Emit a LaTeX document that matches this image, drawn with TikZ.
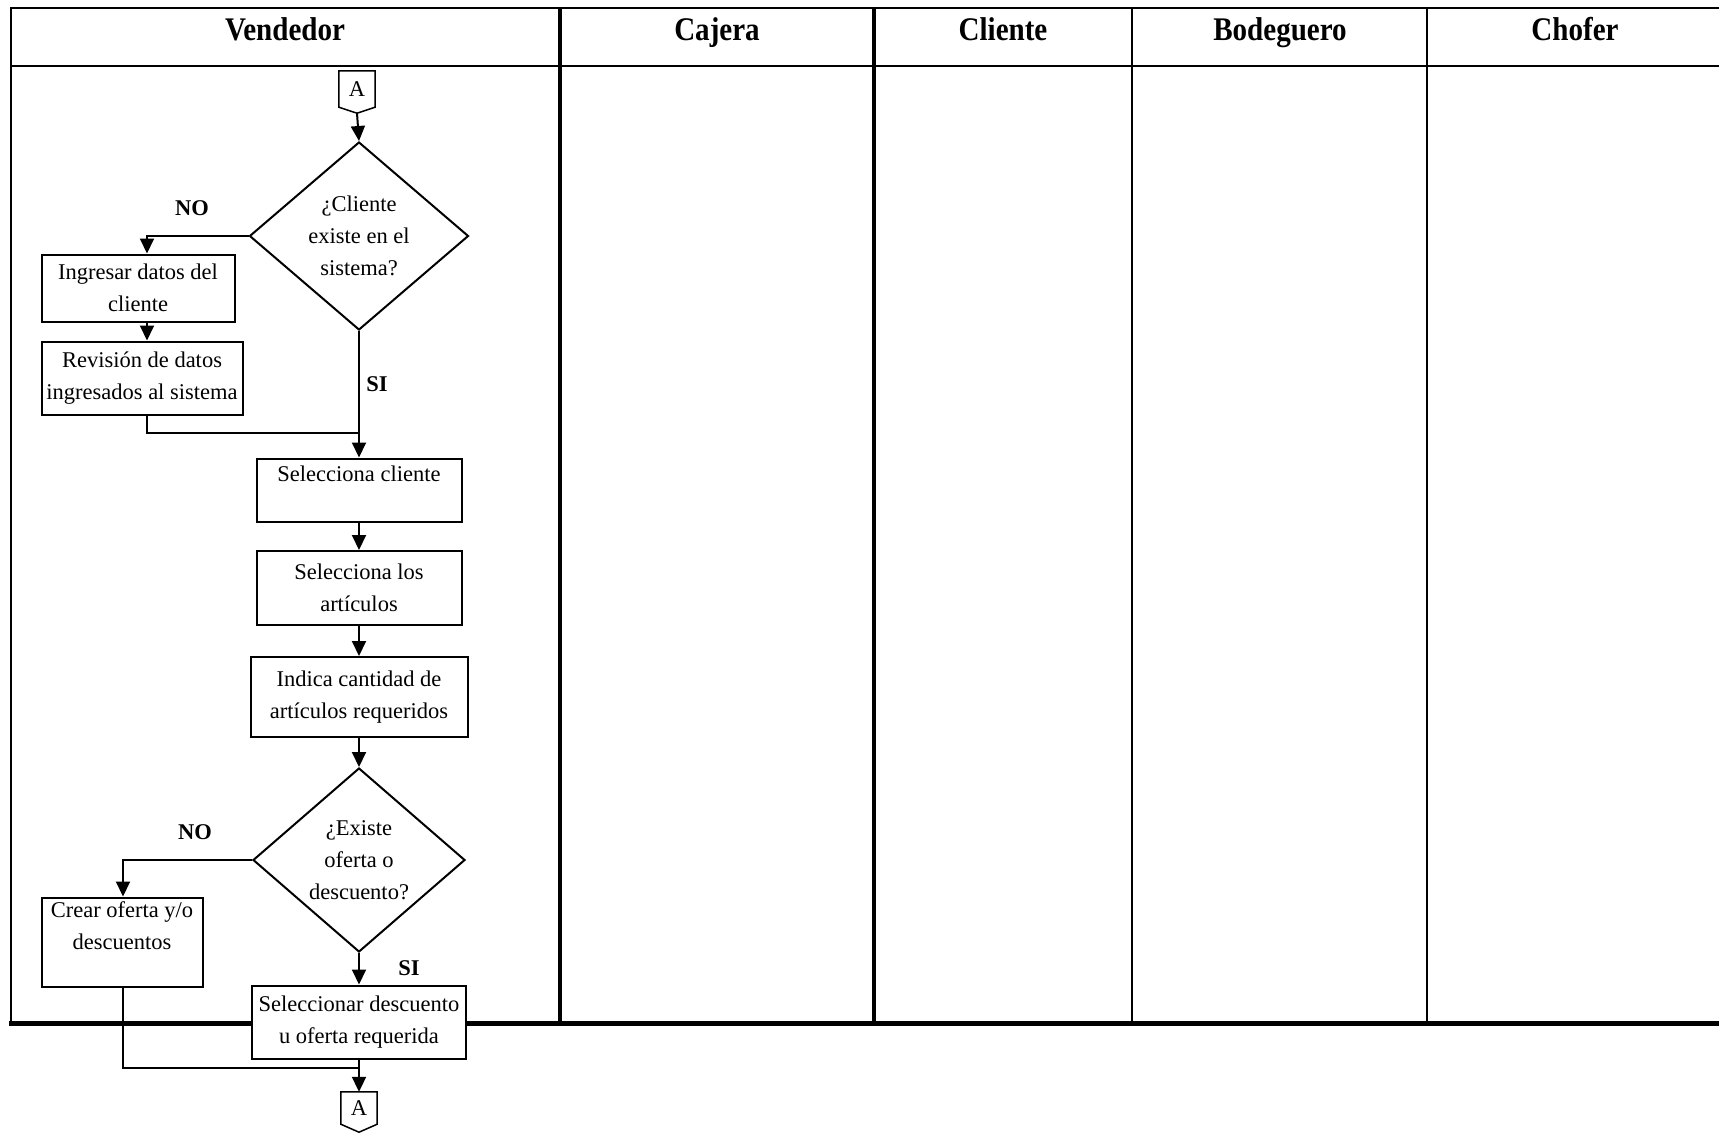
\documentclass[tikz,border=0pt]{standalone}
\usepackage{fontspec}
\setmainfont{Liberation Serif}
\newfontfamily\headfont[FakeStretch=0.88]{Liberation Serif}
\usetikzlibrary{arrows.meta,shapes.geometric}

\begin{document}
\begin{tikzpicture}[x=1pt,y=-1pt,
  lanerule/.style={line width=2.5pt},
  lanethick/.style={line width=4.5pt},
  lanethin/.style={line width=2pt},
  lanebase/.style={line width=5pt},
  head/.style={anchor=base,inner sep=0pt,font=\headfont\bfseries\fontsize{33}{36}\selectfont},
  txt/.style={font=\fontsize{22.5}{32}\selectfont},
  proc/.style={txt,draw,fill=white,line width=2pt,align=center,inner sep=0pt},
  dec/.style={txt,shape=diamond,draw,fill=white,line width=2pt,align=center,inner sep=0pt,aspect=1.18},
  term/.style={txt,inner sep=0pt,minimum width=36pt},
  termline/.style={draw,fill=white,line width=1.5pt},
  lbl/.style={txt,inner sep=0pt,font=\bfseries\fontsize{22.5}{32}\selectfont},
  conn/.style={line width=2pt},
  arr/.style={conn,-{Triangle[width=14pt,length=15pt]}}
]
\useasboundingbox (0,0) rectangle (1719,1135);

% swimlane grid
\draw[lanerule] (10,8) -- (1719,8);
\draw[lanerule] (10,66) -- (1719,66);
\draw[lanerule] (11,8) -- (11,1023);
\draw[lanethick] (560,8) -- (560,1023);
\draw[lanethick] (874,8) -- (874,1023);
\draw[lanethin] (1132,8) -- (1132,1023);
\draw[lanethin] (1427,8) -- (1427,1023);
\draw[lanebase] (9,1023) -- (1719,1023);

% lane titles
\node[head] (hv)  at (285,40)  {Vendedor};
\node[head] (hca) at (717,40)  {Cajera};
\node[head] (hcl) at (1003,40) {Cliente};
\node[head] (hb)  at (1280,40) {Bodeguero};
\node[head] (hch) at (1575,40) {Chofer};

% off-page connector (top)
\node[term,minimum height=36pt] (a1) at (357,89) {};
\draw[termline] (a1.south west) -- (a1.north west) -- (a1.north east) -- (a1.south east)
  -- ([yshift=-6pt]a1.south) -- cycle;
\node[txt,inner sep=0pt] (a1t) at (a1.center) {A};

% first decision and its branch
\node[dec,minimum width=219pt,minimum height=188pt] (d1) at (359,236) {¿Cliente\\existe en el\\sistema?};
\node[proc,minimum width=193pt,minimum height=67pt] (ing) at (138,288) {Ingresar datos del\\cliente};
\node[proc,minimum width=201pt,minimum height=73pt] (rev) at (142,378) {Revisión de datos\\ingresados al sistema};

% main sequence
\node[proc,minimum width=205pt,minimum height=63pt] (selc) at (359,490) {Selecciona cliente\\\phantom{x}};
\node[proc,minimum width=205pt,minimum height=74pt] (sela) at (359,588) {Selecciona los\\artículos};
\node[proc,minimum width=217pt,minimum height=80pt] (ind) at (359,697) {Indica cantidad de\\artículos requeridos};

% second decision and its branch
\node[dec,minimum width=212pt,minimum height=184pt] (d2) at (359,860) {¿Existe\\oferta o\\descuento?};
\node[proc,minimum width=161pt,minimum height=89pt] (crear) at (122,942) {Crear oferta y/o\\descuentos\\\phantom{x}};
\node[proc,minimum width=214pt,minimum height=73pt] (seld) at (359,1022) {Seleccionar descuento\\u oferta requerida};

% off-page connector (bottom)
\node[term,minimum height=32pt] (a2) at (359,1108) {};
\draw[termline] (a2.south west) -- (a2.north west) -- (a2.north east) -- (a2.south east)
  -- ([yshift=-8pt]a2.south) -- cycle;
\node[txt,inner sep=0pt] (a2t) at (a2.center) {A};

% branch labels
\node[lbl] (no1) at (192,208) {NO};
\node[lbl] (si1) at (377,384) {SI};
\node[lbl] (no2) at (195,832) {NO};
\node[lbl] (si2) at (409,968) {SI};

% routing helpers
\coordinate (lx1) at (147,0);
\coordinate (lx2) at (123,0);
\coordinate (j1) at (359,433);
\coordinate (j2) at (359,1068);

% connectors
\draw[arr] ([yshift=-6pt]a1.south) -- (d1.north);
\draw[arr] (d1.west) -| (ing.north -| lx1);
\draw[arr] (ing.south -| lx1) -- (rev.north -| lx1);
\draw[conn] (rev.south -| lx1) |- (j1);
\draw[arr] (d1.south) -- (selc.north);
\draw[arr] (selc.south) -- (sela.north);
\draw[arr] (sela.south) -- (ind.north);
\draw[arr] (ind.south) -- (d2.north);
\draw[arr] (d2.west) -| (crear.north -| lx2);
\draw[arr] (d2.south) -- (seld.north);
\draw[conn] (crear.south -| lx2) |- (j2);
\draw[arr] (seld.south) -- (a2.north);
\end{tikzpicture}
\end{document}
